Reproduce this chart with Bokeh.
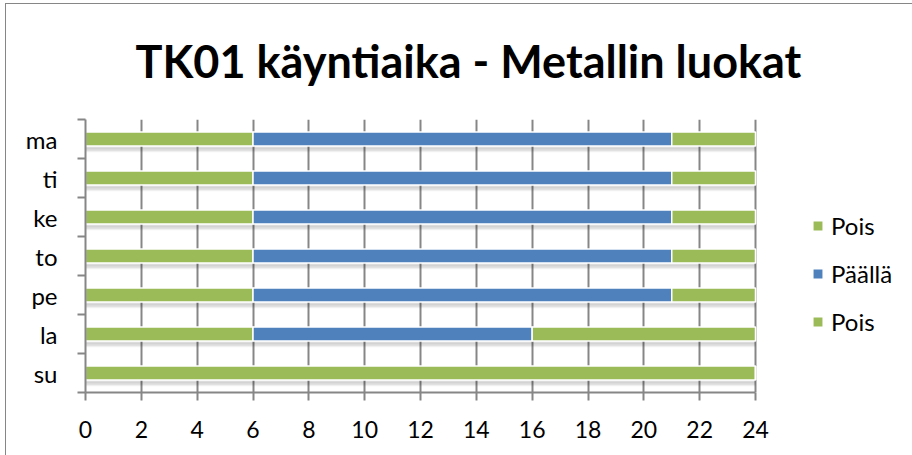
from bokeh.plotting import figure
from bokeh.models import (Range1d, FixedTicker, Legend, LegendItem, ColumnDataSource)
from bokeh.embed import file_html
from bokeh.resources import INLINE

# ---- data ----
days = ["ma", "ti", "ke", "to", "pe", "la", "su"]
pois_aamu = [6, 6, 6, 6, 6, 6, 24]
paalla = [15, 15, 15, 15, 15, 10, 0]
pois_ilta = [3, 3, 3, 3, 3, 8, 0]
x_ticks = [0, 2, 4, 6, 8, 10, 12, 14, 16, 18, 20, 22, 24]
title_text = "TK01 käyntiaika  - Metallin luokat"

GREEN = "#9BBB59"
BLUE = "#4F81BD"
GRID = "#868686"
FONT = "Lato"

n = len(days)
ypos = [n - i - 0.5 for i in range(n)]
s1_l = [0] * n
s1_r = [a for a in pois_aamu]
s2_l = s1_r
s2_r = [a + b for a, b in zip(pois_aamu, paalla)]
s3_l = s2_r
s3_r = [a + b + c for a, b, c in zip(pois_aamu, paalla, pois_ilta)]

src = ColumnDataSource(dict(y=ypos, s1l=s1_l, s1r=s1_r, s2l=s2_l, s2r=s2_r,
                            s3l=s3_l, s3r=s3_r,
                            sh1=[v - 0.22 for v in ypos],
                            sh2=[v - 0.26 for v in ypos],
                            sh3=[v - 0.30 for v in ypos]))

# frame spans px 85..912; the value axis 0..24 occupies px 85..755
FRAME_L, AXIS_R, W = 85, 755, 912
x_max = x_ticks[-1] * (W - FRAME_L) / (AXIS_R - FRAME_L)

p = figure(width=W, height=455, output_backend="svg", toolbar_location=None,
           x_range=Range1d(0, x_max), y_range=Range1d(0, n),
           min_border_left=FRAME_L, min_border_right=0, min_border_top=119,
           min_border_bottom=63)
p.outline_line_color = None
p.background_fill_color = "white"
p.border_fill_color = None
p.styles = {"box-shadow": "inset 5px 3px 0 0 white, inset 6px 4px 0 0 #868686",
            "background-color": "white"}

# title
p.title.text = title_text
p.title.text_font = FONT
p.title.text_font_style = "bold"
p.title.text_font_size = "45px"
p.title.text_color = "black"
p.title.align = "left"
p.title.offset = 50
p.title.standoff = 63

# shadows
for col, a in (("sh1", 0.10), ("sh2", 0.08), ("sh3", 0.06)):
    p.hbar(y=col, left="s1l", right="s3r", height=0.08, source=src,
           fill_color="black", fill_alpha=a, line_color=None)

H = 0.36
r1 = p.hbar(y="y", left="s1l", right="s1r", height=H, source=src,
            fill_color=GREEN, line_color="white", line_width=1.5)
r2 = p.hbar(y="y", left="s2l", right="s2r", height=H, source=src,
            fill_color=BLUE, line_color="white", line_width=1.5)
r3 = p.hbar(y="y", left="s3l", right="s3r", height=H, source=src,
            fill_color=GREEN, line_color="white", line_width=1.5)

# x axis
p.xaxis.ticker = FixedTicker(ticks=x_ticks)
p.xaxis.bounds = (x_ticks[0], x_ticks[-1])
p.xaxis.axis_line_color = GRID
p.xaxis.axis_line_width = 2
p.xaxis.major_tick_line_color = GRID
p.xaxis.major_tick_line_width = 2
p.xaxis.major_tick_out = 8
p.xaxis.major_tick_in = 0
p.xaxis.minor_tick_line_color = None
p.xaxis.major_label_text_font = FONT
p.xaxis.major_label_text_font_size = "23px"
p.xaxis.major_label_text_color = "black"
p.xaxis.major_label_standoff = 20

# y axis
p.yaxis.ticker = FixedTicker(ticks=ypos, minor_ticks=list(range(n + 1)))
p.yaxis.major_label_overrides = {v: d for v, d in zip(ypos, days)}
p.yaxis.axis_line_color = GRID
p.yaxis.axis_line_width = 2
p.yaxis.major_tick_line_color = None
p.yaxis.major_tick_out = 0
p.yaxis.major_tick_in = 0
p.yaxis.minor_tick_line_color = GRID
p.yaxis.minor_tick_line_width = 2
p.yaxis.minor_tick_out = 8
p.yaxis.minor_tick_in = 0
p.yaxis.major_label_text_font = FONT
p.yaxis.major_label_text_font_size = "24px"
p.yaxis.major_label_text_color = "black"
p.yaxis.major_label_standoff = 20

p.xgrid.ticker = FixedTicker(ticks=x_ticks)
p.xgrid.grid_line_color = GRID
p.xgrid.grid_line_width = 2
p.ygrid.grid_line_color = None

legend = Legend(items=[LegendItem(label="Pois", renderers=[r1]),
                       LegendItem(label="Päällä", renderers=[r2]),
                       LegendItem(label="Pois", renderers=[r3])],
                location=(726, 56), orientation="vertical")
legend.glyph_width = 13
legend.glyph_height = 13
legend.label_standoff = 7
legend.spacing = 19
legend.padding = 0
legend.margin = 0
legend.label_text_font = FONT
legend.label_text_font_size = "24px"
legend.label_text_color = "black"
legend.background_fill_alpha = 0
legend.border_line_color = None
p.add_layout(legend, "center")

open("out.html", "w").write(file_html(p, INLINE))
